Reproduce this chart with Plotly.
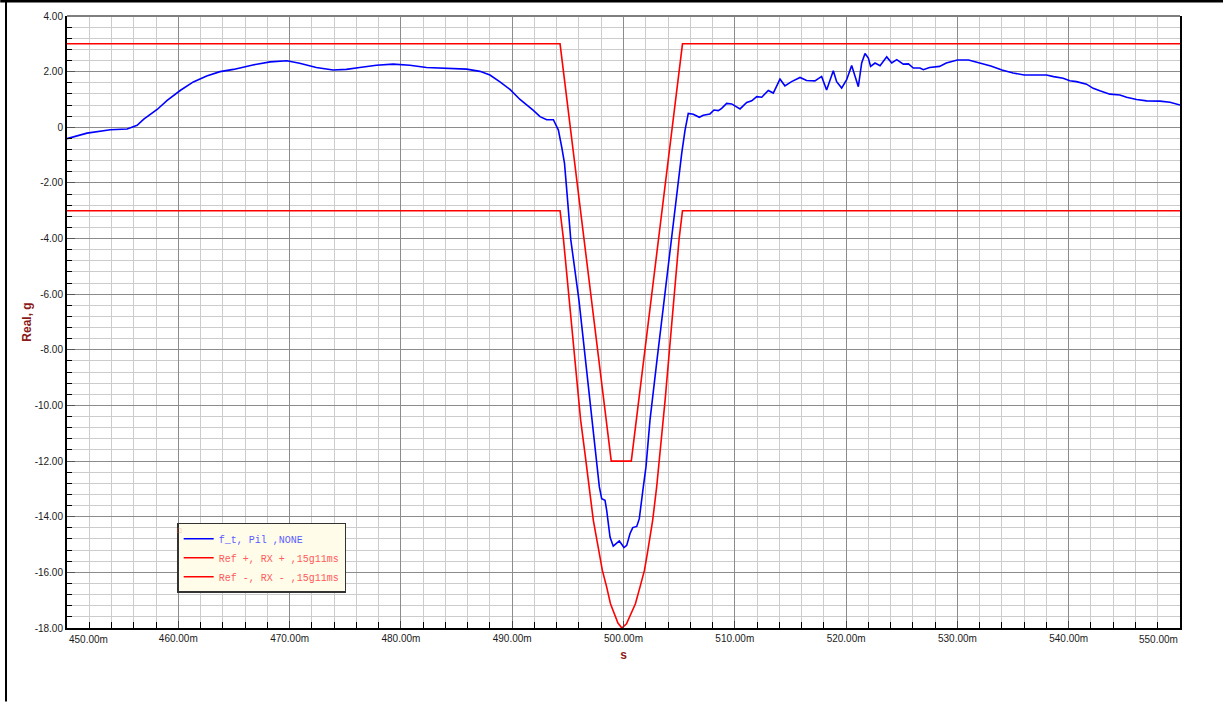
import plotly.graph_objects as go

# ---------------- data ----------------
ft_x = [450.0, 451.8, 453.9, 455.0, 455.4, 456.3, 456.9, 458.1, 459.0, 460.2, 461.35, 462.55,
        463.75, 464.95, 466.7, 468.25, 469.75, 470.9, 472.4, 473.9, 475.1, 476.3, 477.8, 479.3,
        480.8, 482.3, 483.8, 485.9, 487.1, 488.0, 488.9, 489.8, 490.7, 491.9, 492.5, 493.1,
        493.7, 494.05, 494.15, 494.45, 494.7, 494.9, 495.05, 495.26, 496.0, 496.6, 497.2,
        497.44, 497.65, 497.83, 498.04, 498.34, 498.49, 498.64, 498.79, 499.08, 499.39, 499.62,
        499.84, 500.04, 500.29, 500.58, 500.83, 501.19, 501.42, 501.55, 501.78, 502.02, 502.23,
        502.38, 503.0, 503.65, 504.33, 504.63, 504.93, 505.23, 505.53, 505.82, 506.27, 506.81,
        507.17, 507.77, 508.13, 508.52, 508.82, 509.27, 509.72, 510.47, 511.07, 511.52, 511.97,
        512.42, 513.01, 513.46, 514.06, 514.5, 515.1, 515.86, 516.45, 517.2, 517.8, 518.25,
        518.85, 519.15, 519.6, 520.05, 520.5, 520.8, 521.1, 521.4, 521.7, 522.0, 522.2, 522.6,
        523.05, 523.65, 524.1, 524.55, 525.14, 525.6, 526.04, 526.64, 526.94, 527.5, 528.4,
        529.0, 530.0, 531.0, 532.0, 533.0, 534.0, 535.0, 536.0, 537.0, 538.0, 538.65, 539.5,
        540.1, 540.7, 541.6, 542.2, 542.8, 543.7, 544.6, 545.2, 546.1, 547.0, 548.2, 549.1, 550.0]
ft_y = [-0.41, -0.21, -0.09, -0.08, -0.06, 0.07, 0.29, 0.64, 0.97, 1.33, 1.63, 1.84,
        2.00, 2.08, 2.24, 2.35, 2.39, 2.30, 2.15, 2.06, 2.08, 2.15, 2.23, 2.27,
        2.23, 2.15, 2.13, 2.09, 2.01, 1.88, 1.63, 1.36, 1.00, 0.61, 0.38, 0.27,
        0.27, 0.01, -0.10, -0.71, -1.30, -2.25, -3.08, -4.03, -6.22, -8.37, -10.53,
        -11.49, -12.33, -12.93, -13.35, -13.41, -13.77, -14.25, -14.73, -15.06, -14.97, -14.87,
        -14.99, -15.11, -15.03, -14.61, -14.39, -14.35, -14.07, -13.71, -12.93, -12.21, -11.25,
        -10.53, -8.40, -6.20, -4.06, -3.10, -1.90, -0.94, -0.10, 0.50, 0.47, 0.36,
        0.43, 0.48, 0.62, 0.60, 0.68, 0.86, 0.84, 0.66, 0.89, 0.95, 1.10,
        1.08, 1.32, 1.23, 1.73, 1.49, 1.64, 1.79, 1.68, 1.67, 1.83, 1.34,
        2.03, 1.64, 1.41, 1.71, 2.22, 1.83, 1.46, 2.31, 2.65, 2.49, 2.19, 2.31,
        2.21, 2.53, 2.31, 2.43, 2.27, 2.28, 2.13, 2.13, 2.07, 2.15, 2.19,
        2.31, 2.42, 2.42, 2.31, 2.20, 2.06, 1.95, 1.88, 1.88, 1.88, 1.82, 1.76,
        1.67, 1.64, 1.55, 1.40, 1.31, 1.19, 1.16, 1.08, 1.00, 0.95, 0.94, 0.90, 0.80]

refp_x = [450.0, 494.3, 498.9, 500.7, 505.3, 550.0]
refp_y = [3.0, 3.0, -12.0, -12.0, 3.0, 3.0]

refm_x = [450.0, 494.3, 494.6, 495.1, 495.55, 495.95, 496.15, 496.54, 496.93, 497.29, 497.83,
          498.1, 498.49, 498.83, 499.5, 499.85, 500.27, 501.07, 501.48, 501.88, 502.14,
          502.62, 502.98, 503.28, 503.58, 503.74, 504.13, 504.53, 505.0, 505.3, 550.0]
refm_y = [-3.0, -3.0, -4.0, -6.1, -8.0, -9.8, -10.53, -11.73, -12.93, -14.13, -15.33,
          -15.93, -16.53, -17.13, -17.82, -18.0, -17.85, -17.13, -16.53, -15.93, -15.33,
          -14.13, -12.93, -11.73, -10.53, -9.8, -8.0, -6.1, -4.0, -3.0, -3.0]

series_names = ["f_t, Pil ,NONE", "Ref +, RX + ,15g11ms", "Ref -, RX - ,15g11ms"]
series_colors = ["#0000ff", "#ff0000", "#ff0000"]
legend_text_colors = ["#5a5aff", "#ff5a5a", "#ff5a5a"]

x_tickvals = [450, 460, 470, 480, 490, 500, 510, 520, 530, 540, 550]
x_ticktext = ["450.00m", "460.00m", "470.00m", "480.00m", "490.00m", "500.00m",
              "510.00m", "520.00m", "530.00m", "540.00m", "550.00m"]
y_tickvals = [-18, -16, -14, -12, -10, -8, -6, -4, -2, 0, 2, 4]
y_ticktext = ["-18.00", "-16.00", "-14.00", "-12.00", "-10.00", "-8.00", "-6.00",
              "-4.00", "-2.00", "0", "2.00", "4.00"]

# ---------------- figure ----------------
fig = go.Figure()
for xs, ys, name, col, tcol in zip([ft_x, refp_x, refm_x], [ft_y, refp_y, refm_y],
                                   series_names, series_colors, legend_text_colors):
    fig.add_trace(go.Scatter(
        x=xs, y=ys, mode="lines",
        line=dict(color=col, width=1.6),
        name=f"<span style='color:{tcol}'>{name}</span>",
    ))

tick_font = dict(family="Liberation Sans, Arial, sans-serif", size=10, color="#1a1a1a")
title_font = dict(family="Liberation Sans, Arial, sans-serif", size=12, color="#8b1a1a")

# edge x labels are shown as annotations (aligned inside the axis span like the reference)
inner_text = [t if v not in (x_tickvals[0], x_tickvals[-1]) else "" for v, t in zip(x_tickvals, x_ticktext)]

fig.update_xaxes(
    range=[450, 550],
    tickmode="array", tickvals=x_tickvals, ticktext=inner_text,
    ticks="inside", ticklen=7, tickwidth=1, tickcolor="#444444",
    tickfont=tick_font,
    showgrid=True, gridcolor="#8c8c8c", gridwidth=1,
    showline=True, linecolor="black", linewidth=2,
    zeroline=False,
    minor=dict(tick0=450, dtick=2, ticks="inside", ticklen=6, tickcolor="black",
               showgrid=True, gridcolor="#cccccc", gridwidth=1),
    title=dict(text="<b>s</b>", font=title_font, standoff=8),
)
fig.update_yaxes(
    range=[-18, 4],
    tickmode="array", tickvals=y_tickvals, ticktext=y_ticktext,
    ticks="inside", ticklen=8, tickwidth=1, tickcolor="#555555",
    tickfont=tick_font,
    showgrid=True, gridcolor="#8c8c8c", gridwidth=1,
    showline=True, linecolor="black", linewidth=2, mirror=True,
    zeroline=False,
    minor=dict(tick0=-18, dtick=0.4, ticks="inside", ticklen=5, tickcolor="black",
               showgrid=True, gridcolor="#cccccc", gridwidth=1),
    title=dict(text="<b>Real, g</b>", font=title_font, standoff=0),
)

annotations = [
    dict(x=x_tickvals[0], y=0, xref="x", yref="paper", text=x_ticktext[0],
         xanchor="left", yanchor="top", yshift=-4, showarrow=False, font=tick_font),
    dict(x=x_tickvals[-1], y=0, xref="x", yref="paper", text=x_ticktext[-1],
         xanchor="right", yanchor="top", yshift=-4, showarrow=False, font=tick_font),
    dict(x=0.1015, y=0.16, xref="paper", yref="paper", text="\u25a1",
         xanchor="center", yanchor="middle", showarrow=False,
         font=dict(size=7, color="#e07070")),
]

shapes = [
    # top frame of the plot area (gray)
    dict(type="line", xref="paper", yref="paper", x0=0, x1=1, y0=1, y1=1,
         line=dict(color="#7f7f7f", width=2)),
    # outer window border (top and left)
    dict(type="line", xref="paper", yref="paper", x0=-0.06, x1=1.04, y0=1.0245, y1=1.0245,
         line=dict(color="black", width=3)),
    dict(type="line", xref="paper", yref="paper", x0=-0.0548, x1=-0.0548, y0=-0.12, y1=1.03,
         line=dict(color="black", width=2)),
]

fig.update_layout(
    width=1223, height=706,
    margin=dict(l=67, r=43, t=16, b=78, autoexpand=False),
    paper_bgcolor="white", plot_bgcolor="white",
    showlegend=True,
    legend=dict(
        x=0.099, y=0.172, xanchor="left", yanchor="top",
        bgcolor="#fffdea", bordercolor="#333333", borderwidth=1.5,
        font=dict(family="Liberation Mono, Courier New, monospace", size=10),
        itemwidth=30, tracegroupgap=0,
    ),
    annotations=annotations,
    shapes=shapes,
)

fig.write_html("out.html")
